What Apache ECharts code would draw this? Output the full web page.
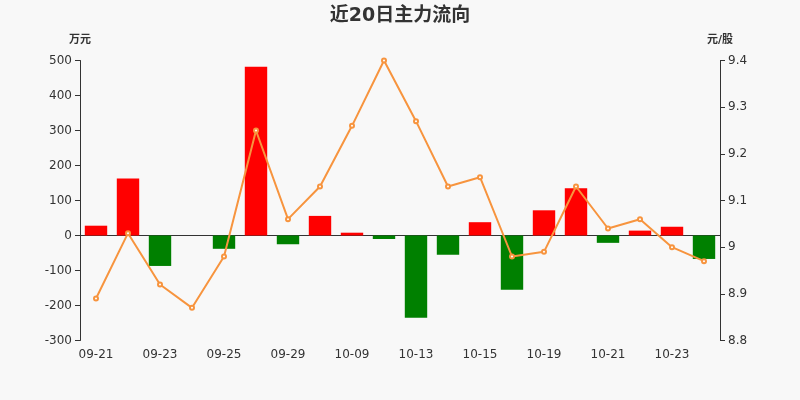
<!DOCTYPE html>
<html>
<head>
<meta charset="utf-8">
<script src="https://cdn.jsdelivr.net/npm/echarts@6/dist/echarts.min.js"></script>
<style>
  html, body { margin: 0; padding: 0; background: #f8f8f8; }
  #main { width: 800px; height: 400px; }
</style>
</head>
<body>
<div id="main"></div>
<script>
// 近20日主力流向
const dates = ["09-21", "09-22", "09-23", "09-24", "09-25", "09-28", "09-29", "09-30", "10-09", "10-12",
  "10-13", "10-14", "10-15", "10-16", "10-19", "10-20", "10-21", "10-22", "10-23", "10-26"];
// 主力净流入（万元）
const flow = [28, 163, -87, 0, -38, 482, -25, 56, 8, -10,
  -235, -55, 38, -155, 72, 135, -21, 14, 25, -67];
// 收盘价（元/股）
const price = [8.89, 9.03, 8.92, 8.87, 8.98, 9.25, 9.06, 9.13, 9.26, 9.40,
  9.27, 9.13, 9.15, 8.98, 8.99, 9.13, 9.04, 9.06, 9.00, 8.97];

const chart = echarts.init(document.getElementById("main"));
const option = {
  backgroundColor: "#f8f8f8",
  textStyle: { fontFamily: "DejaVu Sans, Noto Sans CJK SC, sans-serif" },
  title: {
    text: "近20日主力流向",
    left: "center",
    top: 2,
    textStyle: { fontSize: 19, fontWeight: "bold", color: "#333" },
  },
  grid: { left: 80, right: 80, top: 60.5, bottom: 59.5 },
  xAxis: {
    type: "category",
    data: dates,
    axisLine: { onZero: true, lineStyle: { color: "#333" } },
    axisTick: { interval: 1 },
    axisLabel: { interval: 1, color: "#333", fontSize: 12 },
  },
  yAxis: [
    {
      type: "value",
      name: "万元",
      min: -300,
      max: 500,
      interval: 100,
      nameTextStyle: { color: "#333", fontSize: 11, fontWeight: "bold" },
      axisLine: { show: true, lineStyle: { color: "#333" } },
      axisTick: { show: true },
      splitLine: { show: false },
      axisLabel: { color: "#333", fontSize: 12 },
    },
    {
      type: "value",
      name: "元/股",
      min: 8.8,
      max: 9.4,
      interval: 0.1,
      nameTextStyle: { color: "#333", fontSize: 11, fontWeight: "bold" },
      axisLine: { show: true, lineStyle: { color: "#333" } },
      axisTick: { show: true },
      splitLine: { show: false },
      axisLabel: { color: "#333", fontSize: 12 },
    },
  ],
  series: [
    {
      name: "主力净流入",
      type: "bar",
      data: flow,
      barWidth: "70%",
      itemStyle: {
        color: function (p) {
          return p.value >= 0 ? "#ff0000" : "#008000";
        },
      },
    },
    {
      name: "收盘价",
      type: "line",
      yAxisIndex: 1,
      data: price,
      symbol: "emptyCircle",
      symbolSize: 4,
      lineStyle: { color: "#f7943e", width: 2 },
      itemStyle: { color: "#f7943e" },
    },
  ],
};
chart.setOption(option);
</script>
</body>
</html>
